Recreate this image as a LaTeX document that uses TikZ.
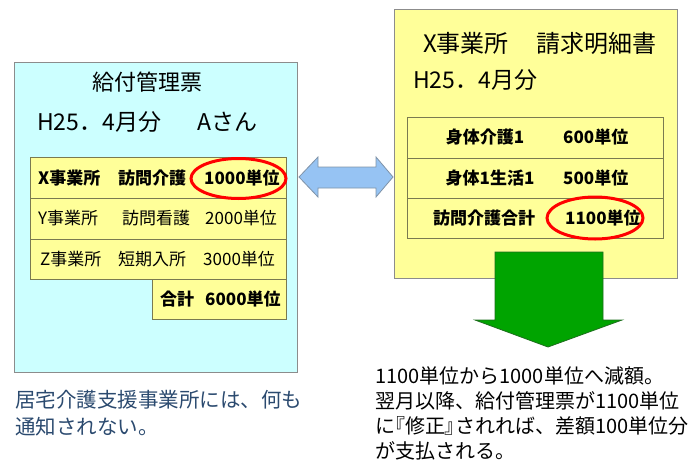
\documentclass[tikz,border=0pt]{standalone}
\usepackage{fontspec}
\setmainfont{Noto Sans CJK JP}
\newfontfamily\paltfont[RawFeature=+palt]{Noto Sans CJK JP}
\definecolor{cyanbg}{HTML}{CCFFFF}
\definecolor{yelbg}{HTML}{FFFF99}
\definecolor{boxline}{HTML}{8C8C8C}
\definecolor{cellline}{HTML}{7A7A50}
\definecolor{arrowblue}{HTML}{96C3F3}
\definecolor{arrowedge}{HTML}{7F93A8}
\definecolor{arrowgreen}{HTML}{00A400}
\definecolor{greenedge}{HTML}{1E6E1E}
\definecolor{notetext}{HTML}{2B4A6F}
\tikzset{
  panel/.style={draw=boxline, line width=0.8pt},
  cell/.style={draw=cellline, fill=yelbg, line width=0.8pt},
  txt/.style={inner sep=0pt, anchor=west, font=\fontsize{17}{19}\selectfont},
  btxt/.style={txt, font=\fontsize{17}{19}\selectfont\bfseries},
  ttl/.style={inner sep=0pt, font=\fontsize{22}{24}\selectfont},
  sub/.style={inner sep=0pt, anchor=west, font=\fontsize{23}{25}\selectfont},
  ring/.style={draw=red, line width=3pt},
}
\begin{document}
\begin{tikzpicture}[x=1pt,y=-1pt]
\useasboundingbox (0,0) rectangle (696,461);
% left panel
\draw[panel, fill=cyanbg] (14,62) rectangle (297,372);
\node[ttl] (lt) at (147.5,82) {給付管理票};
\node[sub] (ls) at (37,122) {H25．4月分\hspace{36pt}Aさん};
\draw[cell] (30,157) rectangle (286,198);
\draw[cell] (30,198) rectangle (286,239);
\draw[cell] (30,239) rectangle (286,279);
\draw[cell] (152,279) rectangle (286,319);
\node[btxt] (r1a) at (38,178) {X事業所};
\node[btxt] (r1b) at (118,178) {訪問介護};
\node[btxt] (r1c) at (204,178) {1000単位};
\node[txt] (r2a) at (38,218) {Y事業所};
\node[txt] (r2b) at (122,218) {訪問看護};
\node[txt] (r2c) at (205,218) {2000単位};
\node[txt] (r3a) at (40,259) {Z事業所};
\node[txt] (r3b) at (118,259) {短期入所};
\node[txt] (r3c) at (203,259) {3000単位};
\node[btxt] (r4a) at (160,299) {合計};
\node[btxt] (r4b) at (205,299) {6000単位};
\draw[ring] (238.5,178.5) ellipse [x radius=47.5, y radius=20];
% right panel
\draw[panel, fill=yelbg] (394,9) rectangle (677,278);
\node[sub, font=\fontsize{24}{26}\selectfont] (rt) at (423,43) {X事業所\hspace{28pt}請求明細書};
\node[sub] (rs) at (413,80) {H25．4月分};
\draw[cell] (407,117) rectangle (663,158);
\draw[cell] (407,158) rectangle (663,198);
\draw[cell] (407,198) rectangle (663,238);
\node[btxt, anchor=center] (q1a) at (485,137) {身体介護1};
\node[btxt] (q1b) at (563,137) {600単位};
\node[btxt, anchor=center] (q2a) at (490,178) {身体1生活1};
\node[btxt] (q2b) at (563,178) {500単位};
\node[btxt, anchor=center] (q3a) at (484,218) {訪問介護合計};
\node[btxt] (q3b) at (565,218) {1100単位};
\draw[ring] (595,218) ellipse [x radius=48, y radius=21];
% double arrow
\draw[fill=arrowblue, draw=arrowedge, line width=0.8pt, line join=miter]
  (299,177) -- (318,157) -- (318,167) -- (376,167) -- (376,157) -- (393,177)
  -- (376,197) -- (376,188) -- (318,188) -- (318,197) -- cycle;
% green arrow
\draw[fill=arrowgreen, draw=greenedge, line width=0.8pt]
  (495,252) -- (603,252) -- (603,320) -- (622,320) -- (548,347) -- (475,320)
  -- (495,320) -- cycle;
% notes
\node[inner sep=0pt, anchor=west, align=left, text=notetext,
  font=\fontsize{20.5}{27}\selectfont] (nl) at (15,413.5)
  {居宅介護支援事業所には、何も\\通知されない。};
\node[inner sep=0pt, anchor=west, align=left,
  font=\fontsize{20}{25}\selectfont] (nr) at (375,413.5)
  {1100単位から1000単位へ減額。\\翌月以降、給付管理票が1100単位\\に{\paltfont 『}修正{\paltfont 』}されれば、差額100単位分\\が支払される。};
\end{tikzpicture}
\end{document}
